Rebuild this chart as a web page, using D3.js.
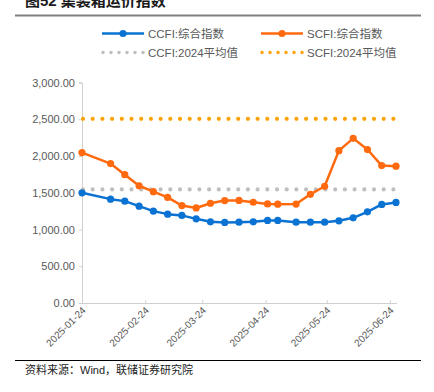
<!DOCTYPE html>
<html>
<head>
<meta charset="utf-8">
<script src="https://cdn.jsdelivr.net/npm/d3@7"></script>
<style>
  body { margin: 0; background: #fff; }
  svg { display: block; font-family: "Liberation Sans", Arial, "Noto Sans CJK SC", sans-serif; }
</style>
</head>
<body>
<svg id="chart" width="434" height="392"></svg>
<script>
/*************************** Data ***************************/
var dates = ["2025-01-24","2025-02-07","2025-02-14","2025-02-21","2025-02-28","2025-03-07",
             "2025-03-14","2025-03-21","2025-03-28","2025-04-04","2025-04-11","2025-04-18",
             "2025-04-25","2025-04-30","2025-05-09","2025-05-16","2025-05-23","2025-05-30",
             "2025-06-06","2025-06-13","2025-06-20","2025-06-27"];
var ccfi = [1499,1413,1386,1318,1250,1209,1192,1145,1105,1096,1100,1105,
            1124,1124,1100,1100,1100,1118,1159,1240,1341,1368];
var scfi = [2046,1897,1746,1595,1515,1436,1326,1293,1357,1394,1395,1371,
            1348,1345,1346,1479,1588,2073,2240,2088,1870,1862];
var ccfiAvg = 1545;
var scfiAvg = 2506;
var yTicks = [0,500,1000,1500,2000,2500,3000];
var xTicks = ["2025-01-24","2025-02-24","2025-03-24","2025-04-24","2025-05-24","2025-06-24"];
var legendNames = ["CCFI:综合指数","SCFI:综合指数","CCFI:2024平均值","SCFI:2024平均值"];

/*************************** Chart ***************************/
var parse = d3.timeParse("%Y-%m-%d");
var svg = d3.select("#chart");

var x = d3.scaleTime()
          .domain([parse(dates[0]), parse(dates[dates.length-1])])
          .range([82, 396]);
var y = d3.scaleLinear().domain([0,3000]).range([303, 82.5]);

var blue = "#0a72d2", orange = "#ff6a0e", grey = "#bfbfbf", gold = "#ffa206";

// title + rules
svg.append("text").attr("x",25).attr("y",6)
   .attr("font-size","15px").attr("font-weight","bold").attr("fill","#1a1a1a")
   .text("图52 集装箱运价指数");
svg.append("line").attr("x1",15).attr("x2",421).attr("y1",15.5).attr("y2",15.5)
   .attr("stroke","#808080").attr("stroke-width",2);
svg.append("line").attr("x1",15).attr("x2",421).attr("y1",360.5).attr("y2",360.5)
   .attr("stroke","#000").attr("stroke-width",1);
svg.append("text").attr("x",25).attr("y",374)
   .attr("font-size","11px").attr("fill","#222")
   .text("资料来源：Wind，联储证券研究院");

// y axis
var yAxis = svg.append("g").attr("transform","translate(82,0)")
   .call(d3.axisLeft(y).tickValues(yTicks).tickSize(3).tickPadding(4)
         .tickFormat(d3.format(",.2f")));
yAxis.select(".domain").attr("stroke","#d0d0d0");
yAxis.selectAll(".tick line").attr("stroke","#d0d0d0");
yAxis.selectAll("text").attr("font-size","11px").attr("fill","#595959")
     .attr("font-family","Liberation Sans, Arial, sans-serif");

// x axis
var xAxis = svg.append("g").attr("transform","translate(0,303)")
   .call(d3.axisBottom(x).tickValues(xTicks.map(parse)).tickSizeInner(-3).tickSizeOuter(0)
         .tickFormat(d3.timeFormat("%Y-%m-%d")));
xAxis.select(".domain").attr("stroke","#d0d0d0").attr("d","M82,0.5H397");
xAxis.selectAll(".tick line").attr("stroke","#d0d0d0");
xAxis.selectAll("text")
     .attr("font-size","10px").attr("fill","#595959")
     .attr("font-family","Liberation Sans, Arial, sans-serif")
     .attr("text-anchor","end")
     .attr("dy",null).attr("y",0)
     .attr("transform","translate(4,8) rotate(-45)");

// average dotted lines
var xEnds = [parse(dates[0]), parse(dates[dates.length-1])];
function avgLine(v, col) {
    svg.append("line")
       .attr("x1", x(xEnds[0])+1).attr("x2", x(xEnds[1]))
       .attr("y1", y(v)).attr("y2", y(v))
       .attr("stroke", col).attr("stroke-width", 4.2)
       .attr("stroke-linecap","round").attr("stroke-dasharray","0,9.7");
}
avgLine(ccfiAvg, grey);
avgLine(scfiAvg, gold);

// series
var line = d3.line().x(function(d){return x(d.date);}).y(function(d){return y(d.v);});
function series(vals, col) {
    var data = dates.map(function(d,i){ return {date: parse(d), v: vals[i]}; });
    var g = svg.append("g");
    g.append("path").datum(data).attr("d", line)
     .attr("fill","none").attr("stroke", col).attr("stroke-width",2.5)
     .attr("stroke-linejoin","round");
    g.selectAll("circle").data(data).enter().append("circle")
     .attr("cx", function(d){return x(d.date);})
     .attr("cy", function(d){return y(d.v);})
     .attr("r", 3.6).attr("fill", col);
}
series(scfi, orange);
series(ccfi, blue);

// legend
var leg = svg.append("g").attr("font-size","11.5px").attr("fill","#595959");
var legPos = [[102,33.5,blue,"line"],[261,33.5,orange,"line"],[102,52.5,grey,"dot"],[261,52.5,gold,"dot"]];
legPos.forEach(function(p,i){
    if (p[3] == "line") {
        leg.append("line").attr("x1",p[0]).attr("x2",p[0]+42).attr("y1",p[1]).attr("y2",p[1])
           .attr("stroke",p[2]).attr("stroke-width",2.5);
        leg.append("circle").attr("cx",p[0]+21).attr("cy",p[1]).attr("r",3.6).attr("fill",p[2]);
    } else {
        leg.append("line").attr("x1",p[0]+1).attr("x2",p[0]+42).attr("y1",p[1]).attr("y2",p[1])
           .attr("stroke",p[2]).attr("stroke-width",3.5)
           .attr("stroke-linecap","round").attr("stroke-dasharray","0,8");
    }
    leg.append("text").attr("x",p[0]+46).attr("y",p[1]+4).attr("fill","#595959")
       .text(legendNames[i]);
});
</script>
</body>
</html>
